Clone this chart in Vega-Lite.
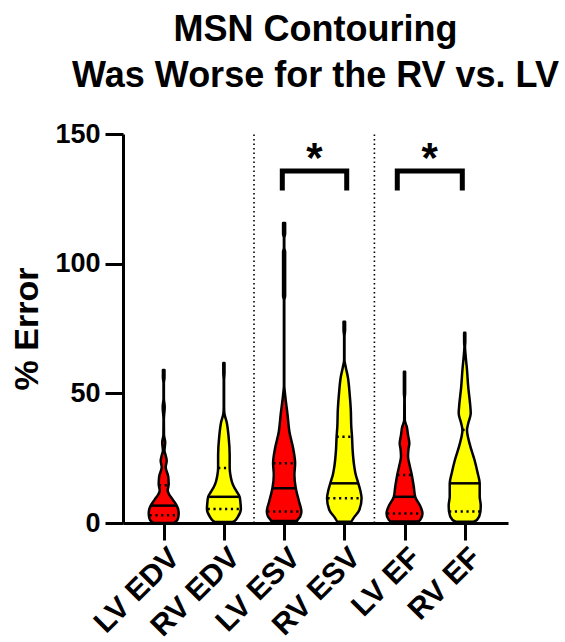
{
  "$schema": "https://vega.github.io/schema/vega-lite/v6.json",
  "width": 385,
  "height": 389,
  "autosize": {"type": "none"},
  "padding": {"left": 123, "top": 134, "right": 57, "bottom": 119},
  "background": "white",
  "config": {"view": {"stroke": null}, "font": "Liberation Sans"},
  "title": {
    "text": ["MSN Contouring", "Was Worse for the RV vs. LV"],
    "fontSize": 36,
    "font": "Liberation Sans",
    "fontWeight": "bold",
    "color": "black",
    "anchor": "middle",
    "frame": "group",
    "lineHeight": 46,
    "offset": 25
  },
  "datasets": {
    "violins": [
      {"cat": "LV EDV", "v": 0, "w": 0.166}, {"cat": "LV EDV", "v": 0.5, "w": 0.199}, {"cat": "LV EDV", "v": 2, "w": 0.241}, {"cat": "LV EDV", "v": 4, "w": 0.249}, {"cat": "LV EDV", "v": 6.7, "w": 0.216}, {"cat": "LV EDV", "v": 9, "w": 0.15}, {"cat": "LV EDV", "v": 11, "w": 0.091}, {"cat": "LV EDV", "v": 12.5, "w": 0.066}, {"cat": "LV EDV", "v": 15, "w": 0.083}, {"cat": "LV EDV", "v": 18, "w": 0.075}, {"cat": "LV EDV", "v": 21.5, "w": 0.033}, {"cat": "LV EDV", "v": 24, "w": 0.05}, {"cat": "LV EDV", "v": 26, "w": 0.033}, {"cat": "LV EDV", "v": 28, "w": 0.013}, {"cat": "LV EDV", "v": 31, "w": 0.025}, {"cat": "LV EDV", "v": 34, "w": 0.005}, {"cat": "LV EDV", "v": 40, "w": 0.003}, {"cat": "LV EDV", "v": 44.7, "w": 0.017}, {"cat": "LV EDV", "v": 48, "w": 0.003}, {"cat": "LV EDV", "v": 54, "w": 0.003}, {"cat": "LV EDV", "v": 56, "w": 0.013}, {"cat": "LV EDV", "v": 59, "w": 0.013},
      {"cat": "RV EDV", "v": 0.4, "w": 0.15}, {"cat": "RV EDV", "v": 0.9, "w": 0.183}, {"cat": "RV EDV", "v": 2.4, "w": 0.233}, {"cat": "RV EDV", "v": 5.4, "w": 0.282}, {"cat": "RV EDV", "v": 8, "w": 0.274}, {"cat": "RV EDV", "v": 10.1, "w": 0.261}, {"cat": "RV EDV", "v": 12, "w": 0.216}, {"cat": "RV EDV", "v": 14, "w": 0.166}, {"cat": "RV EDV", "v": 15.9, "w": 0.133}, {"cat": "RV EDV", "v": 18.5, "w": 0.108}, {"cat": "RV EDV", "v": 21.2, "w": 0.096}, {"cat": "RV EDV", "v": 26.2, "w": 0.096}, {"cat": "RV EDV", "v": 32.8, "w": 0.08}, {"cat": "RV EDV", "v": 39, "w": 0.045}, {"cat": "RV EDV", "v": 42.4, "w": 0.008}, {"cat": "RV EDV", "v": 45, "w": 0.003}, {"cat": "RV EDV", "v": 55, "w": 0.003}, {"cat": "RV EDV", "v": 57.8, "w": 0.01}, {"cat": "RV EDV", "v": 61.7, "w": 0.01},
      {"cat": "LV ESV", "v": 0.8, "w": 0.216}, {"cat": "LV ESV", "v": 1.2, "w": 0.224}, {"cat": "LV ESV", "v": 2.4, "w": 0.266}, {"cat": "LV ESV", "v": 4.4, "w": 0.287}, {"cat": "LV ESV", "v": 8.2, "w": 0.249}, {"cat": "LV ESV", "v": 13.4, "w": 0.194}, {"cat": "LV ESV", "v": 18.5, "w": 0.171}, {"cat": "LV ESV", "v": 23, "w": 0.183}, {"cat": "LV ESV", "v": 28.8, "w": 0.15}, {"cat": "LV ESV", "v": 35.2, "w": 0.088}, {"cat": "LV ESV", "v": 41.6, "w": 0.058}, {"cat": "LV ESV", "v": 49.4, "w": 0.017}, {"cat": "LV ESV", "v": 53, "w": 0.003}, {"cat": "LV ESV", "v": 86, "w": 0.003}, {"cat": "LV ESV", "v": 87.5, "w": 0.017}, {"cat": "LV ESV", "v": 104.6, "w": 0.017}, {"cat": "LV ESV", "v": 106, "w": 0.003}, {"cat": "LV ESV", "v": 110, "w": 0.003}, {"cat": "LV ESV", "v": 111.5, "w": 0.017}, {"cat": "LV ESV", "v": 115.7, "w": 0.017},
      {"cat": "RV ESV", "v": 0.5, "w": 0.116}, {"cat": "RV ESV", "v": 1.8, "w": 0.15}, {"cat": "RV ESV", "v": 5, "w": 0.249}, {"cat": "RV ESV", "v": 9.5, "w": 0.287}, {"cat": "RV ESV", "v": 12.5, "w": 0.266}, {"cat": "RV ESV", "v": 15.3, "w": 0.233}, {"cat": "RV ESV", "v": 18.5, "w": 0.191}, {"cat": "RV ESV", "v": 21.7, "w": 0.166}, {"cat": "RV ESV", "v": 28.2, "w": 0.138}, {"cat": "RV ESV", "v": 33.3, "w": 0.128}, {"cat": "RV ESV", "v": 37.1, "w": 0.116}, {"cat": "RV ESV", "v": 43.6, "w": 0.108}, {"cat": "RV ESV", "v": 50, "w": 0.088}, {"cat": "RV ESV", "v": 56.4, "w": 0.058}, {"cat": "RV ESV", "v": 60, "w": 0.025}, {"cat": "RV ESV", "v": 62.9, "w": 0.003}, {"cat": "RV ESV", "v": 72, "w": 0.003}, {"cat": "RV ESV", "v": 74.4, "w": 0.013}, {"cat": "RV ESV", "v": 77.6, "w": 0.013},
      {"cat": "LV EF", "v": 0.6, "w": 0.233}, {"cat": "LV EF", "v": 1.2, "w": 0.261}, {"cat": "LV EF", "v": 3.7, "w": 0.299}, {"cat": "LV EF", "v": 6.3, "w": 0.266}, {"cat": "LV EF", "v": 10.1, "w": 0.178}, {"cat": "LV EF", "v": 14, "w": 0.154}, {"cat": "LV EF", "v": 18.5, "w": 0.121}, {"cat": "LV EF", "v": 22, "w": 0.088}, {"cat": "LV EF", "v": 25.6, "w": 0.058}, {"cat": "LV EF", "v": 28.5, "w": 0.066}, {"cat": "LV EF", "v": 30.7, "w": 0.08}, {"cat": "LV EF", "v": 34, "w": 0.058}, {"cat": "LV EF", "v": 37.1, "w": 0.038}, {"cat": "LV EF", "v": 39.7, "w": 0.005}, {"cat": "LV EF", "v": 48, "w": 0.003}, {"cat": "LV EF", "v": 50, "w": 0.01}, {"cat": "LV EF", "v": 58.3, "w": 0.01},
      {"cat": "RV EF", "v": 0.5, "w": 0.15}, {"cat": "RV EF", "v": 1.2, "w": 0.204}, {"cat": "RV EF", "v": 4.4, "w": 0.261}, {"cat": "RV EF", "v": 6.9, "w": 0.266}, {"cat": "RV EF", "v": 10.1, "w": 0.249}, {"cat": "RV EF", "v": 15.3, "w": 0.249}, {"cat": "RV EF", "v": 19.2, "w": 0.216}, {"cat": "RV EF", "v": 24.3, "w": 0.163}, {"cat": "RV EF", "v": 30.7, "w": 0.08}, {"cat": "RV EF", "v": 35.9, "w": 0.038}, {"cat": "RV EF", "v": 38.4, "w": 0.058}, {"cat": "RV EF", "v": 42.3, "w": 0.1}, {"cat": "RV EF", "v": 46.2, "w": 0.088}, {"cat": "RV EF", "v": 52.6, "w": 0.058}, {"cat": "RV EF", "v": 59, "w": 0.038}, {"cat": "RV EF", "v": 65.4, "w": 0.012}, {"cat": "RV EF", "v": 68, "w": 0.005}, {"cat": "RV EF", "v": 70, "w": 0.01}, {"cat": "RV EF", "v": 73.4, "w": 0.01}
    ],
    "quartiles": [
      {"cat": "LV EDV", "stat": "Q1", "v": 3, "w": 0.235}, {"cat": "LV EDV", "stat": "median", "v": 6.7, "w": 0.216}, {"cat": "LV EDV", "stat": "Q3", "v": 14.6, "w": 0.08},
      {"cat": "RV EDV", "stat": "Q1", "v": 5.4, "w": 0.27}, {"cat": "RV EDV", "stat": "median", "v": 10.1, "w": 0.261}, {"cat": "RV EDV", "stat": "Q3", "v": 21.2, "w": 0.096},
      {"cat": "LV ESV", "stat": "Q1", "v": 4.4, "w": 0.28}, {"cat": "LV ESV", "stat": "median", "v": 13.4, "w": 0.194}, {"cat": "LV ESV", "stat": "Q3", "v": 23, "w": 0.18},
      {"cat": "RV ESV", "stat": "Q1", "v": 9.5, "w": 0.28}, {"cat": "RV ESV", "stat": "median", "v": 15.3, "w": 0.233}, {"cat": "RV ESV", "stat": "Q3", "v": 33.3, "w": 0.128},
      {"cat": "LV EF", "stat": "Q1", "v": 3.7, "w": 0.29}, {"cat": "LV EF", "stat": "median", "v": 10.1, "w": 0.178}, {"cat": "LV EF", "stat": "Q3", "v": 18.5, "w": 0.121},
      {"cat": "RV EF", "stat": "Q1", "v": 4.4, "w": 0.26}, {"cat": "RV EF", "stat": "median", "v": 15.3, "w": 0.249}, {"cat": "RV EF", "stat": "Q3", "v": 35.9, "w": 0.038}
    ]
  },
  "layer": [
    {
      "data": {"values": [{"b": 2.5}, {"b": 4.5}]},
      "mark": {"type": "rule", "strokeDash": [1.5, 3], "strokeWidth": 1.6, "color": "black"},
      "encoding": {
        "x": {
          "field": "b", "type": "quantitative",
          "scale": {"domain": [0.324, 6.719], "nice": false, "zero": false},
          "axis": {
            "values": [1, 2, 3, 4, 5, 6],
            "labelExpr": "['LV EDV','RV EDV','LV ESV','RV ESV','LV EF','RV EF'][datum.value - 1]",
            "title": null, "labelAngle": -45, "labelFontSize": 30, "labelFontWeight": "bold", "labelColor": "black", "labelFont": "Liberation Sans", "labelPadding": 2,
            "labelFlush": false, "labelOverlap": false, "labelBound": false,
            "tickSize": 17, "tickWidth": 3, "tickColor": "black", "domainWidth": 3, "domainColor": "black", "grid": false
          }
        },
        "y": {
          "datum": 0, "type": "quantitative",
          "scale": {"domain": [0, 150], "nice": false},
          "axis": {
            "values": [0, 50, 100, 150], "title": "% Error", "titleFontSize": 34, "titleFontWeight": "bold", "titleColor": "black", "titleFont": "Liberation Sans", "titlePadding": 10,
            "labelFontSize": 27, "labelFontWeight": "bold", "labelColor": "black", "labelFont": "Liberation Sans", "labelPadding": 5,
            "tickSize": 18, "tickWidth": 3, "tickColor": "black", "domainWidth": 3, "domainColor": "black", "grid": false
          }
        },
        "y2": {"datum": 150}
      }
    },
    {
      "data": {"name": "violins"},
      "transform": [
        {"calculate": "indexof(['LV EDV','RV EDV','LV ESV','RV ESV','LV EF','RV EF'], datum.cat) + 1", "as": "idx"},
        {"calculate": "datum.idx - datum.w", "as": "lo"},
        {"calculate": "datum.idx + datum.w", "as": "hi"}
      ],
      "mark": {"type": "area", "orient": "horizontal", "interpolate": "monotone", "stroke": "black", "strokeWidth": 2.5, "strokeJoin": "round", "fillOpacity": 1},
      "encoding": {
        "y": {"field": "v", "type": "quantitative", "scale": {"domain": [0, 150], "nice": false}},
        "x": {"field": "lo", "type": "quantitative", "stack": null, "scale": {"domain": [0.324, 6.719], "nice": false, "zero": false}},
        "x2": {"field": "hi"},
        "color": {
          "field": "cat", "type": "nominal",
          "scale": {"domain": ["LV EDV", "RV EDV", "LV ESV", "RV ESV", "LV EF", "RV EF"], "range": ["#ff0000", "#ffff00", "#ff0000", "#ffff00", "#ff0000", "#ffff00"]},
          "legend": null
        }
      }
    },
    {
      "data": {"name": "quartiles"},
      "transform": [
        {"filter": "datum.stat === 'median'"},
        {"calculate": "indexof(['LV EDV','RV EDV','LV ESV','RV ESV','LV EF','RV EF'], datum.cat) + 1", "as": "idx"},
        {"calculate": "datum.idx - datum.w", "as": "lo"},
        {"calculate": "datum.idx + datum.w", "as": "hi"}
      ],
      "mark": {"type": "rule", "color": "black", "strokeWidth": 2.5},
      "encoding": {
        "y": {"field": "v", "type": "quantitative", "scale": {"domain": [0, 150], "nice": false}},
        "x": {"field": "lo", "type": "quantitative", "scale": {"domain": [0.324, 6.719], "nice": false, "zero": false}},
        "x2": {"field": "hi"}
      }
    },
    {
      "data": {"name": "quartiles"},
      "transform": [
        {"filter": "datum.stat !== 'median'"},
        {"calculate": "indexof(['LV EDV','RV EDV','LV ESV','RV ESV','LV EF','RV EF'], datum.cat) + 1", "as": "idx"},
        {"calculate": "datum.idx - datum.w", "as": "lo"},
        {"calculate": "datum.idx + datum.w", "as": "hi"}
      ],
      "mark": {"type": "rule", "color": "black", "strokeWidth": 2.5, "strokeDash": [2.2, 3.6]},
      "encoding": {
        "y": {"field": "v", "type": "quantitative", "scale": {"domain": [0, 150], "nice": false}},
        "x": {"field": "lo", "type": "quantitative", "scale": {"domain": [0.324, 6.719], "nice": false, "zero": false}},
        "x2": {"field": "hi"}
      }
    },
    {
      "data": {"values": [
        {"grp": "ESV", "o": 1, "x": 2.97, "y": 128.2}, {"grp": "ESV", "o": 2, "x": 2.97, "y": 135.7}, {"grp": "ESV", "o": 3, "x": 4.04, "y": 135.7}, {"grp": "ESV", "o": 4, "x": 4.04, "y": 128.2},
        {"grp": "EF", "o": 1, "x": 4.88, "y": 128.2}, {"grp": "EF", "o": 2, "x": 4.88, "y": 135.7}, {"grp": "EF", "o": 3, "x": 5.96, "y": 135.7}, {"grp": "EF", "o": 4, "x": 5.96, "y": 128.2}
      ]},
      "mark": {"type": "line", "color": "black", "strokeWidth": 5, "strokeJoin": "miter", "strokeCap": "butt"},
      "encoding": {
        "x": {"field": "x", "type": "quantitative", "scale": {"domain": [0.324, 6.719], "nice": false, "zero": false}},
        "y": {"field": "y", "type": "quantitative", "scale": {"domain": [0, 150], "nice": false}},
        "detail": {"field": "grp"},
        "order": {"field": "o"}
      }
    },
    {
      "data": {"values": [{"x": 3.505, "y": 135.5, "t": "*"}, {"x": 5.42, "y": 135.5, "t": "*"}]},
      "mark": {"type": "text", "fontSize": 42, "fontWeight": "bold", "font": "Liberation Sans", "color": "black", "baseline": "alphabetic", "align": "center"},
      "encoding": {
        "x": {"field": "x", "type": "quantitative", "scale": {"domain": [0.324, 6.719], "nice": false, "zero": false}},
        "y": {"field": "y", "type": "quantitative", "scale": {"domain": [0, 150], "nice": false}},
        "text": {"field": "t"}
      }
    }
  ]
}
